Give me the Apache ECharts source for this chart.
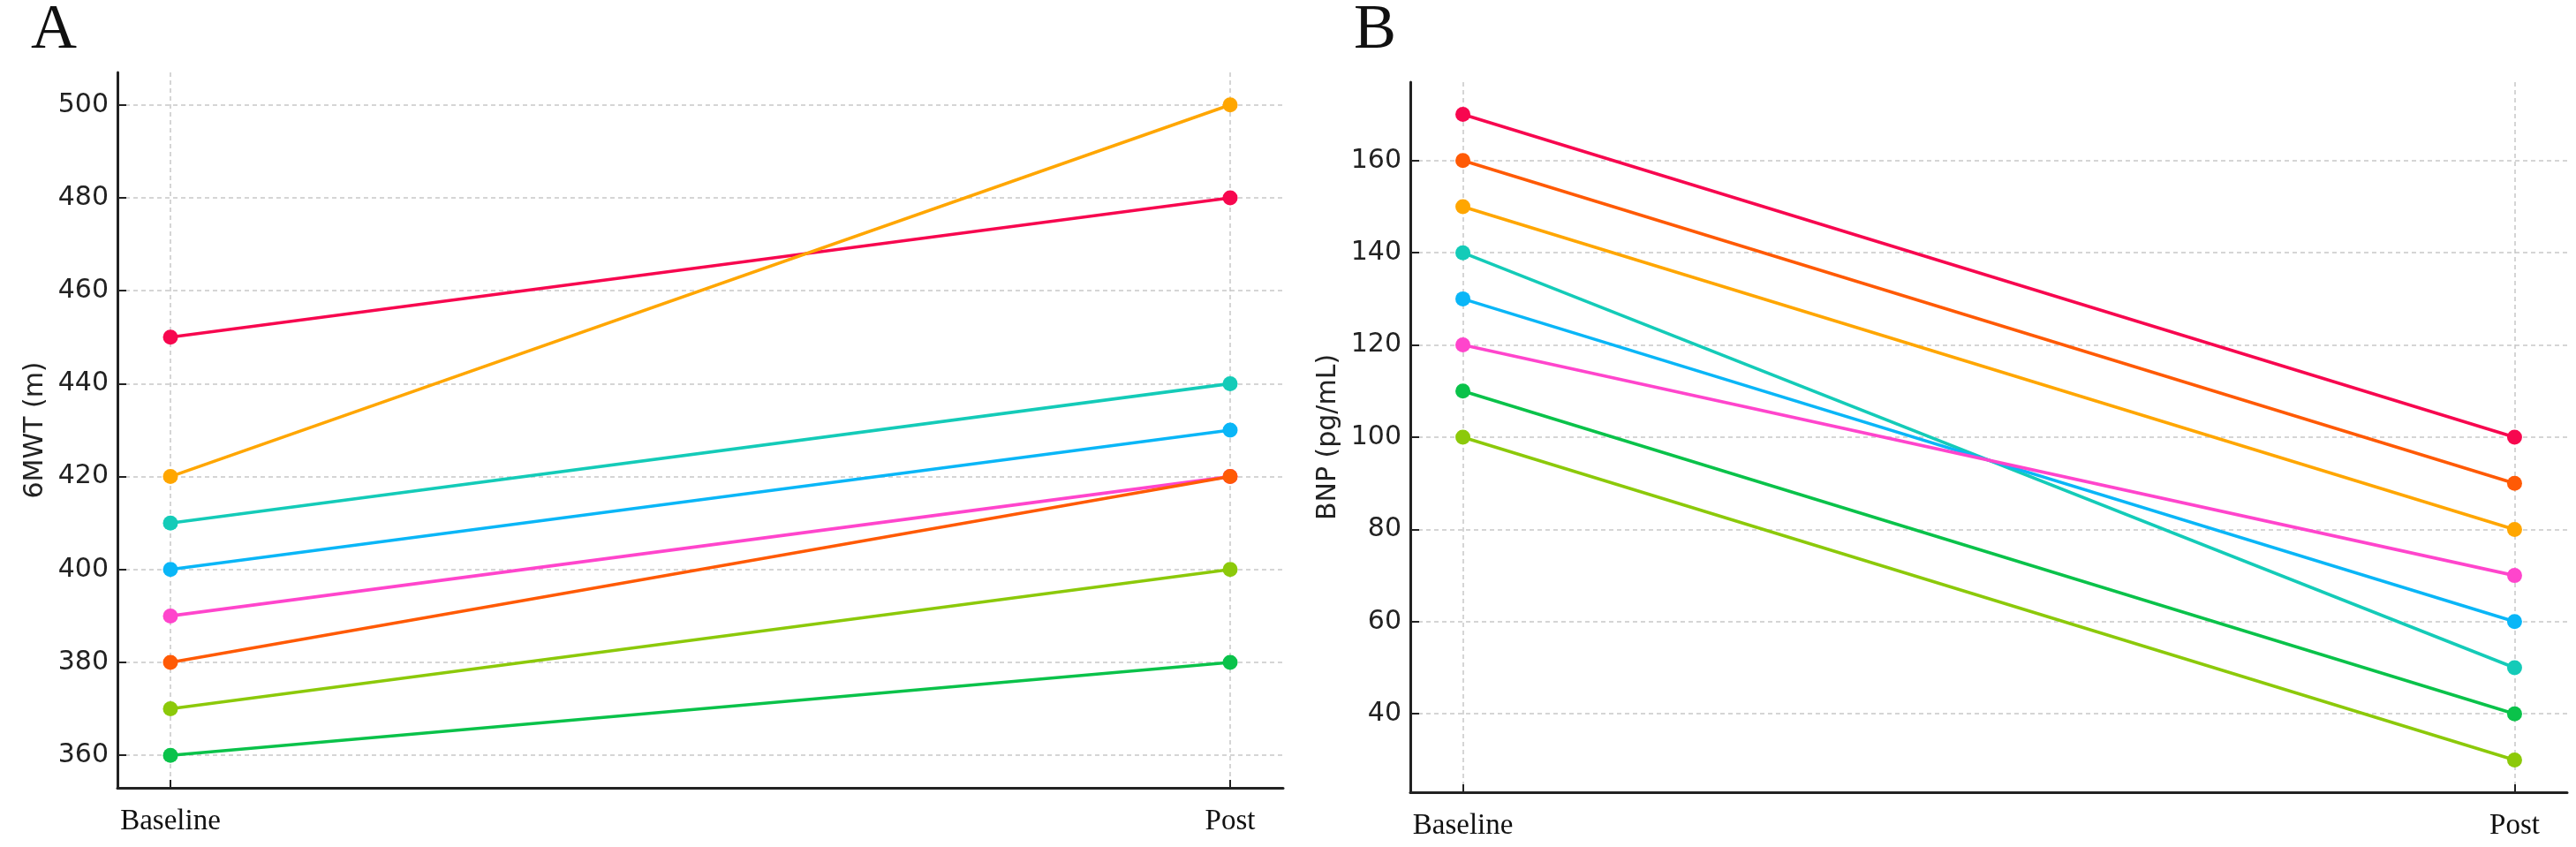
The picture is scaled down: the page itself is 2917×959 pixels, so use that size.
<!DOCTYPE html>
<html>
<head>
<meta charset="utf-8">
<script src="https://cdn.jsdelivr.net/npm/echarts@6/dist/echarts.min.js"></script>
<style>html,body{margin:0;padding:0;background:#fff;}#c{width:2917px;height:959px;}</style>
</head>
<body>
<div id="c"></div>
<script>
const categories = ['Baseline', 'Post'];
const mwtBaseline = [450, 420, 410, 400, 390, 380, 370, 360];
const mwtPost     = [480, 500, 440, 430, 420, 420, 400, 380];
const mwtTicks = [360, 380, 400, 420, 440, 460, 480, 500];
const bnpBaseline = [170, 160, 150, 140, 130, 120, 110, 100];
const bnpPost     = [100, 90, 80, 50, 60, 70, 40, 30];
const bnpTicks = [40, 60, 80, 100, 120, 140, 160];
const mwtColors = ['#f7074f', '#ffa600', '#14cbb8', '#0ab6f7', '#ff45cc', '#ff5a05', '#8cc90a', '#0ac24a'];
const bnpColors = ['#f7074f', '#ff5a05', '#ffa600', '#14cbb8', '#0ab6f7', '#ff45cc', '#0ac24a', '#8cc90a'];

const chart = echarts.init(document.getElementById('c'));
const sans = 'DejaVu Sans';
const serif = 'Liberation Serif';
const gridLine = { show: true, lineStyle: { color: '#c8c8c8', type: [5, 4], width: 1.5 } };

function xAxis(gi) {
  return {
    type: 'value', gridIndex: gi, min: -0.05, max: 1.05,
    axisLine: { show: true, onZero: false, lineStyle: { color: '#222', width: 3 } },
    axisTick: { show: true, inside: true, length: 9, lineStyle: { color: '#222', width: 2 }, customValues: [0, 1] },
    axisLabel: { customValues: [0, 1], formatter: v => categories[Math.round(v)] || '', fontFamily: serif, fontSize: 33, color: '#111', margin: 22 },
    splitLine: gridLine
  };
}
function yAxis(gi, min, max, ticks, name) {
  return {
    type: 'value', gridIndex: gi, min: min, max: max,
    name: name, nameLocation: 'middle', nameGap: 78, nameRotate: 90,
    nameTextStyle: { fontFamily: sans, fontSize: 30, color: '#222' },
    axisLine: { show: true, onZero: false, lineStyle: { color: '#222', width: 3 } },
    axisTick: { show: true, inside: true, length: 10, lineStyle: { color: '#222', width: 2 }, customValues: ticks },
    axisLabel: { customValues: ticks, fontFamily: sans, fontSize: 30, color: '#222', margin: 10 },
    splitLine: gridLine
  };
}
function makeSeries(gi, base, post, colors) {
  return base.map((b, i) => ({
    type: 'line', xAxisIndex: gi, yAxisIndex: gi,
    data: [[0, b], [1, post[i]]],
    symbol: 'circle', symbolSize: 17,
    lineStyle: { width: 3.6, color: colors[i] },
    itemStyle: { color: colors[i] },
    z: 2 + i, animation: false
  }));
}

chart.setOption({
  animation: false,
  title: [
    { text: 'A', left: 30, top: -6, textStyle: { fontFamily: serif, fontSize: 72, fontWeight: 'normal', color: '#111' } },
    { text: 'B', left: 1528, top: -6, textStyle: { fontFamily: serif, fontSize: 72, fontWeight: 'normal', color: '#111' } }
  ],
  grid: [
    { left: 133, top: 82, width: 1320, height: 810 },
    { left: 1597, top: 93, width: 1310, height: 804 }
  ],
  xAxis: [xAxis(0), xAxis(1)],
  yAxis: [yAxis(0, 353, 507, mwtTicks, '6MWT (m)'), yAxis(1, 23, 177, bnpTicks, 'BNP (pg/mL)')],
  series: [].concat(makeSeries(0, mwtBaseline, mwtPost, mwtColors), makeSeries(1, bnpBaseline, bnpPost, bnpColors))
});
</script>
</body>
</html>
